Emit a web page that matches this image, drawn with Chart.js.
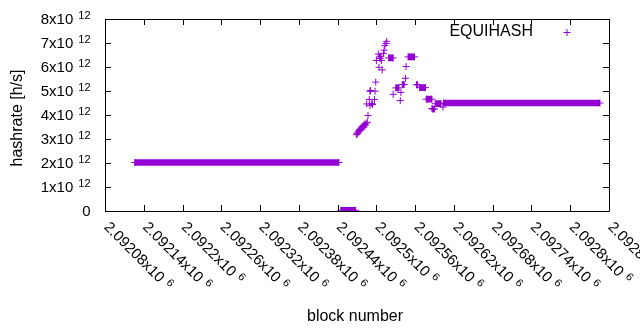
<!DOCTYPE html>
<html>
<head>
<meta charset="utf-8">
<script src="https://cdn.jsdelivr.net/npm/chart.js@4/dist/chart.umd.min.js"></script>
<style>
html, body { margin: 0; padding: 0; background: #fff; }
</style>
</head>
<body>
<canvas id="hashChart" width="640" height="330"></canvas>
<script>
//------------------------------------
// Data
//------------------------------------

const seriesName = "EQUIHASH";
const seriesColor = "#9400d3";

// stretches of consecutive blocks sharing one hashrate
const runStart = [2092126, 2092445, 2092519, 2092530, 2092540, 2092549, 2092562, 2092567, 2092577, 2092587, 2092591, 2092604];
const runEnd   = [2092442, 2092468, 2092526, 2092535, 2092543, 2092559, 2092564, 2092576, 2092586, 2092590, 2092600, 2092846];
const runValue = [2.02e12, 0.03e12, 6.38e12, 5.13e12, 5.27e12, 6.42e12, 5.26e12, 5.14e12, 4.66e12, 4.25e12, 4.47e12, 4.50e12];

// single blocks
const pointBlock = [2092469, 2092470, 2092471, 2092472, 2092473, 2092474, 2092475, 2092476, 2092477, 2092478,
                    2092479, 2092480, 2092481, 2092482, 2092483, 2092484, 2092486, 2092487, 2092485, 2092489,
                    2092490, 2092490, 2092491, 2092494, 2092493, 2092497, 2092498, 2092499, 2092500, 2092503,
                    2092504, 2092505, 2092506, 2092507, 2092508, 2092509, 2092511, 2092512, 2092513, 2092515,
                    2092516, 2092526, 2092537, 2092538, 2092545, 2092546, 2092586, 2092603];
const pointValue = [3.18e12, 3.25e12, 3.22e12, 3.33e12, 3.30e12, 3.40e12, 3.36e12, 3.45e12, 3.42e12, 3.52e12,
                    3.48e12, 3.56e12, 3.50e12, 3.62e12, 3.58e12, 3.66e12, 3.70e12, 3.98e12, 4.46e12, 4.65e12,
                    4.40e12, 4.99e12, 5.02e12, 4.44e12, 4.48e12, 4.65e12, 4.99e12, 5.37e12, 6.27e12, 6.54e12,
                    5.99e12, 6.42e12, 6.35e12, 6.45e12, 6.27e12, 5.88e12, 6.57e12, 6.70e12, 6.89e12, 6.98e12,
                    7.07e12, 4.86e12, 4.60e12, 4.94e12, 5.53e12, 6.02e12, 4.27e12, 4.33e12];

// axes
const xMin = 2092080;
const xMax = 2092860;
const xTicks = [2092080, 2092140, 2092200, 2092260, 2092320, 2092380, 2092440,
                2092500, 2092560, 2092620, 2092680, 2092740, 2092800, 2092860];
const xTickText = ["2.09208x10", "2.09214x10", "2.0922x10", "2.09226x10", "2.09232x10", "2.09238x10", "2.09244x10",
                   "2.0925x10", "2.09256x10", "2.09262x10", "2.09268x10", "2.09274x10", "2.0928x10", "2.09286x10"];
const xTickExp = "6";

const yTicks = [0, 1e12, 2e12, 3e12, 4e12, 5e12, 6e12, 7e12, 8e12];
const yTickText = ["0", "1x10", "2x10", "3x10", "4x10", "5x10", "6x10", "7x10", "8x10"];
const yTickExp = ["", "12", "12", "12", "12", "12", "12", "12", "12"];

const xTitle = "block number";
const yTitle = "hashrate [h/s]";

//------------------------------------
// Build datasets
//------------------------------------

let runData = [];

for (let i = 0; i < runStart.length; i++) {
    runData.push({ x: runStart[i], y: runValue[i] });
    runData.push({ x: runEnd[i], y: runValue[i] });
    runData.push({ x: runEnd[i], y: null });
}

let pointData = pointBlock.map((b, i) => ({ x: b, y: pointValue[i] }));

const FONT = '"Liberation Sans", Arial, sans-serif';

//------------------------------------
// Frame, ticks, labels (gnuplot look)
//------------------------------------

function labelWithExp(ctx, text, exp, x, y, size, supSize, gap, align) {

    ctx.font = size + "px " + FONT;
    const w = ctx.measureText(text).width;
    ctx.font = supSize + "px " + FONT;
    const we = exp ? ctx.measureText(exp).width + gap : 0;

    let x0 = x;
    if (align === "right") x0 = x - w - we;

    ctx.textAlign = "left";
    ctx.textBaseline = "alphabetic";
    ctx.font = size + "px " + FONT;
    ctx.fillText(text, x0, y);

    if (exp) {
        ctx.font = supSize + "px " + FONT;
        ctx.fillText(exp, x0 + w + gap, y - 5);
    }
}

const gnuplotFrame = {
    id: "gnuplotFrame",
    afterDraw(chart) {

        const ctx = chart.ctx;
        const a = chart.chartArea;
        const xs = chart.scales.x;
        const ys = chart.scales.y;
        const tick = 6;

        ctx.save();
        ctx.strokeStyle = "#000";
        ctx.fillStyle = "#000";
        ctx.lineWidth = 1;

        ctx.beginPath();
        ctx.rect(Math.round(a.left) + 0.5, Math.round(a.top) + 0.5,
                 Math.round(a.right - a.left), Math.round(a.bottom - a.top));

        xTicks.forEach(v => {
            const px = Math.round(xs.getPixelForValue(v)) + 0.5;
            ctx.moveTo(px, a.bottom);
            ctx.lineTo(px, a.bottom - tick);
            ctx.moveTo(px, a.top);
            ctx.lineTo(px, a.top + tick);
        });

        yTicks.forEach(v => {
            const py = Math.round(ys.getPixelForValue(v)) + 0.5;
            ctx.moveTo(a.left, py);
            ctx.lineTo(a.left + tick, py);
            ctx.moveTo(a.right, py);
            ctx.lineTo(a.right - tick, py);
        });
        ctx.stroke();

        // y tick labels
        yTicks.forEach((v, i) => {
            const py = ys.getPixelForValue(v);
            labelWithExp(ctx, yTickText[i], yTickExp[i], 90.5, py + 5, 15, 11, 5, "right");
        });

        // x tick labels, rotated
        xTicks.forEach((v, i) => {
            const px = xs.getPixelForValue(v);
            ctx.save();
            ctx.translate(px + 6, 220);
            ctx.rotate(Math.PI / 4);
            labelWithExp(ctx, xTickText[i], xTickExp, 0, 11, 15, 11, 5, "left");
            ctx.restore();
        });

        // axis titles
        ctx.font = "16px " + FONT;
        ctx.textAlign = "center";
        ctx.textBaseline = "alphabetic";
        ctx.fillText(xTitle, 355, 321);

        ctx.save();
        ctx.translate(22, 118);
        ctx.rotate(-Math.PI / 2);
        ctx.fillText(yTitle, 0, 0);
        ctx.restore();

        // key
        ctx.textAlign = "right";
        ctx.textBaseline = "middle";
        ctx.fillText(seriesName, 533, 32);

        ctx.strokeStyle = seriesColor;
        ctx.beginPath();
        ctx.moveTo(563.5, 32.5);
        ctx.lineTo(570.5, 32.5);
        ctx.moveTo(567, 29);
        ctx.lineTo(567, 36);
        ctx.stroke();

        ctx.restore();
    }
};

//------------------------------------
// Chart
//------------------------------------

window.addEventListener("load", function () {

    const ctx = document.getElementById("hashChart");

    new Chart(ctx, {
        type: "scatter",
        data: {
            datasets: [
                {
                    label: seriesName,
                    data: runData,
                    showLine: true,
                    spanGaps: false,
                    borderColor: seriesColor,
                    backgroundColor: seriesColor,
                    borderWidth: 6.7,
                    borderCapStyle: "butt",
                    pointStyle: "cross",
                    pointRadius: 3.5,
                    pointBorderWidth: 1,
                    pointBorderColor: seriesColor
                },
                {
                    label: seriesName,
                    data: pointData,
                    showLine: false,
                    pointStyle: "cross",
                    pointRadius: 3.5,
                    pointBorderWidth: 1,
                    pointBorderColor: seriesColor,
                    backgroundColor: seriesColor
                }
            ]
        },
        options: {
            responsive: false,
            animation: false,
            layout: { padding: { left: 105, top: 19, right: 31, bottom: 119 } },
            plugins: {
                legend: { display: false },
                tooltip: { enabled: false }
            },
            scales: {
                x: { type: "linear", display: false, min: xMin, max: xMax },
                y: { type: "linear", display: false, min: 0, max: 8e12 }
            }
        },
        plugins: [gnuplotFrame]
    });

});
</script>
</body>
</html>
